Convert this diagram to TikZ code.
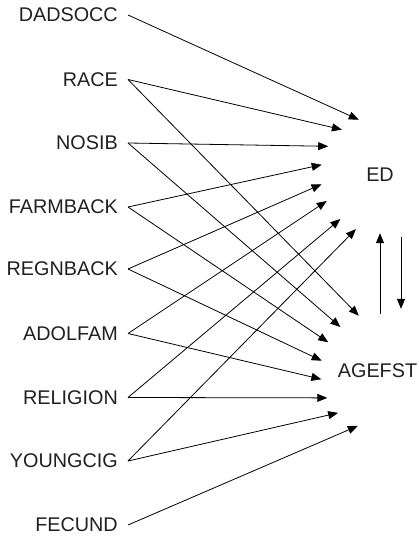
\documentclass[tikz,border=0pt]{standalone}
\usepackage{fontspec}
\setmainfont{Liberation Sans}
\usetikzlibrary{arrows.meta}
\definecolor{txt}{HTML}{231F20}
\begin{document}
\begin{tikzpicture}[x=1pt,y=-1pt,
  lbl/.style={anchor=east,inner xsep=10pt,inner ysep=0pt,text=txt,font=\fontsize{19.8}{22}\selectfont},
  tgt/.style={circle,minimum size=118pt,inner sep=0pt,text=txt,font=\fontsize{19.8}{22}\selectfont},
  arr/.style={-{Triangle[length=10pt,width=8pt]},line width=0.8pt,draw=black}]
\useasboundingbox (0,0) rectangle (418,540);
\node[lbl] (dad) at (128,15) {DADSOCC};
\node[lbl] (race) at (128,79.5) {RACE};
\node[lbl] (nosib) at (128,143) {NOSIB};
\node[lbl] (farm) at (128,207) {FARMBACK};
\node[lbl] (regn) at (128,269) {REGNBACK};
\node[lbl] (adol) at (128,333.5) {ADOLFAM};
\node[lbl] (rel) at (128,397.5) {RELIGION};
\node[lbl] (young) at (128,461) {YOUNGCIG};
\node[lbl] (fec) at (128,525) {FECUND};
\node[tgt] (ed) at (380,175) {ED};
\node[tgt] (age) at (380,371) {AGEFST\hspace*{5pt}};
% into ED
\draw[arr] (dad.east) -- (ed.111.6);
\draw[arr] (race.east) -- (ed.130.4);
\draw[arr] (nosib.east) -- (ed.151.3);
\draw[arr] (farm.east) -- (ed.170);
\draw[arr] (regn.east) -- (ed.189);
\draw[arr] (adol.east) -- (ed.206.5);
\draw[arr] (rel.east) -- (ed.228);
\draw[arr] (young.east) -- (ed.246.5);
% into AGEFST
\draw[arr] (race.east) -- (age.111.8);
\draw[arr] (nosib.east) -- (age.132.3);
\draw[arr] (farm.east) -- (age.151.7);
\draw[arr] (regn.east) -- (age.170.2);
\draw[arr] (adol.east) -- (age.188);
\draw[arr] (rel.east) -- (age.207);
\draw[arr] (young.east) -- (age.225.7);
\draw[arr] (fec.east) -- (age.248.2);
% reciprocal
\draw[arr] ([yshift=-2pt]age.north) -- ([yshift=1pt]ed.south);
\draw[arr] ([xshift=21pt,yshift=-3pt]ed.south) -- ([xshift=21pt,yshift=3pt]age.north);
\end{tikzpicture}
\end{document}
